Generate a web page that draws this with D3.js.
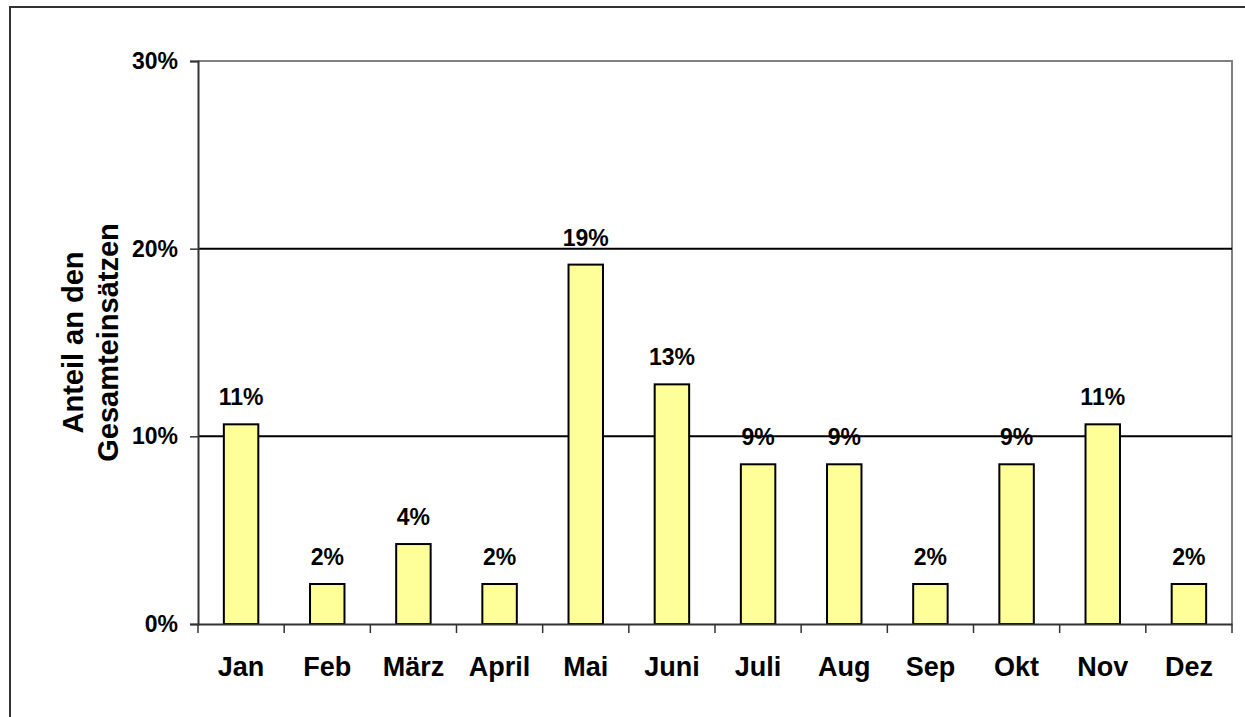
<!DOCTYPE html>
<html>
<head>
<meta charset="utf-8">
<script src="https://cdn.jsdelivr.net/npm/d3@7"></script>
<style>
  body { margin: 0; background: #fff; }
  text { font-family: "Liberation Sans", Arial, sans-serif; font-weight: bold; fill: #000; }
</style>
</head>
<body>
<div class="chart"></div>
<script>
// Anteil an den Gesamteinsätzen je Monat (in %)
var months = ["Jan", "Feb", "März", "April", "Mai", "Juni", "Juli", "Aug", "Sep", "Okt", "Nov", "Dez"];
var shares = [10.64, 2.13, 4.26, 2.13, 19.15, 12.77, 8.51, 8.51, 2.13, 8.51, 10.64, 2.13];
var yTicks = [0, 10, 20, 30];
var yTitle = ["Anteil an den", "Gesamteinsätzen"];

var w = 1245;
var h = 717;
var margin = {left: 198, top: 61, right: 13, bottom: 93};

var svg = d3.select(".chart").append("svg")
            .attr("width", w)
            .attr("height", h);

// outer frame (only top/left visible)
svg.append("rect")
  .attr("x", 10).attr("y", 7)
  .attr("width", w + 20).attr("height", h + 20)
  .attr("fill", "none")
  .attr("stroke", "#333")
  .attr("stroke-width", 2);

var xBand = d3.scaleBand()
          .domain(months)
          .range([margin.left, w - margin.right]);

var y = d3.scaleLinear()
          .domain([0, 30])
          .range([h - margin.bottom, margin.top]);

var x0 = margin.left, x1 = w - margin.right;

// plot border (gray top/right)
svg.append("path")
  .attr("d", `M${x0},${y(30)}H${x1}V${y(0)}`)
  .attr("fill", "none")
  .attr("stroke", "#808080")
  .attr("stroke-width", 2);

// gridlines
svg.selectAll("line.grid")
  .data(yTicks.filter(d => d > 0 && d < 30))
  .enter()
    .append("line")
    .attr("class", "grid")
    .attr("x1", x0).attr("x2", x1)
    .attr("y1", d => y(d)).attr("y2", d => y(d))
    .attr("stroke", "#000")
    .attr("stroke-width", 2);

// bars
var bw = xBand.bandwidth() / 2.5;
svg.selectAll("rect.bar")
  .data(shares)
  .enter()
    .append("rect")
    .attr("class", "bar")
    .attr("x", (d, i) => xBand(months[i]) + (xBand.bandwidth() - bw) / 2)
    .attr("y", d => y(d))
    .attr("width", bw)
    .attr("height", d => y(0) - y(d))
    .attr("fill", "#ffff99")
    .attr("stroke", "#000")
    .attr("stroke-width", 2);

// data labels
svg.selectAll("text.val")
  .data(shares)
  .enter()
    .append("text")
    .attr("class", "val")
    .attr("x", (d, i) => xBand(months[i]) + xBand.bandwidth() / 2)
    .attr("y", d => y(d) - 19)
    .attr("text-anchor", "middle")
    .attr("font-size", "23px")
    .text(d => Math.round(d) + "%");

// y axis
var yAxis = svg.append("g")
  .attr("transform", `translate(${x0},0)`)
  .call(d3.axisLeft(y).tickValues(yTicks).tickSize(8).tickPadding(12).tickFormat(d => d + "%"));
yAxis.select(".domain").attr("stroke", "#333").attr("stroke-width", 2);
yAxis.selectAll(".tick line").attr("stroke", "#333").attr("stroke-width", 1.5);
yAxis.selectAll(".tick text")
  .attr("font-size", "23px")
  .attr("font-family", "Liberation Sans, Arial, sans-serif")
  .attr("font-weight", "bold")
  .attr("fill", "#000");

// x axis
var xAxis = svg.append("g")
  .attr("transform", `translate(0,${y(0)})`)
  .call(d3.axisBottom(xBand).tickSize(0).tickPadding(33));
xAxis.select(".domain").attr("stroke", "#333").attr("stroke-width", 2);
xAxis.selectAll(".tick text")
  .attr("font-size", "27px")
  .attr("font-family", "Liberation Sans, Arial, sans-serif")
  .attr("font-weight", "bold")
  .attr("fill", "#000");

// ticks between categories
var bounds = months.map(m => xBand(m)).concat([x1]);
svg.selectAll("line.xtick")
  .data(bounds)
  .enter()
    .append("line")
    .attr("class", "xtick")
    .attr("x1", d => d).attr("x2", d => d)
    .attr("y1", y(0)).attr("y2", y(0) + 9)
    .attr("stroke", "#333")
    .attr("stroke-width", 1.5);

// y title
var cy = (y(0) + y(30)) / 2;
svg.selectAll("text.ytitle")
  .data(yTitle)
  .enter()
    .append("text")
    .attr("class", "ytitle")
    .attr("transform", (d, i) => `translate(${83 + i * 35},${cy}) rotate(-90)`)
    .attr("text-anchor", "middle")
    .attr("font-size", "29px")
    .text(d => d);
</script>
</body>
</html>
